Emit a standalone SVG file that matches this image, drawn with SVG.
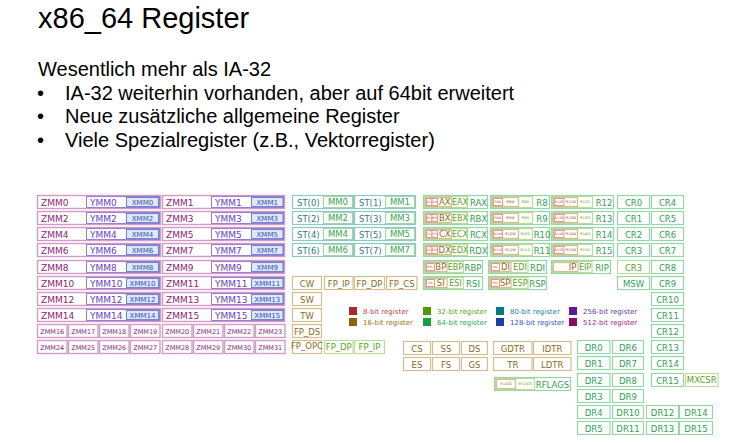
<svg xmlns="http://www.w3.org/2000/svg" width="755" height="443" viewBox="0 0 755 443">
<style>
text{font-family:"DejaVu Sans","Liberation Sans",sans-serif}
.h{font-family:"Liberation Sans",Arial,sans-serif;fill:#000}
.z{fill:#fff;stroke:#d09cc6;stroke-width:1.4}
.zt{font-size:9px;fill:#8e2377}
.zs{font-size:6.5px;fill:#8e2377;text-anchor:middle}
.y{fill:#fff;stroke:#9a7ed6}
.yt{font-size:9px;fill:#6a3cc4}
.x{fill:#e0e7f8;stroke:#6d86cc}
.xt{font-size:7px;fill:#3152b4;text-anchor:middle}
.st{fill:#fff;stroke:#8ccac0;stroke-width:1.2}
.stt{font-size:8.5px;fill:#2b7c7a}
.mm{fill:#fff;stroke:#9ed6aa}
.mmt{font-size:8.5px;fill:#3aa452;text-anchor:middle}
.b{fill:#fff;stroke:#d2be90;stroke-width:1.2}
.bt{font-size:8.5px;fill:#8a6a1a;text-anchor:middle}
.g{fill:#fff;stroke:#96d4aa;stroke-width:1.2}
.gt{font-size:8.5px;fill:#2ea250;text-anchor:middle}
.l{fill:#fff;stroke:#bcdc98;stroke-width:1.2}
.lt{font-size:8.5px;fill:#5aa218;text-anchor:middle}
.r{fill:#fff;stroke:#dc9a9a}
.rt{font-size:3.2px;fill:#c04a4a;text-anchor:middle}
.bs{font-size:8.5px;fill:#8a6a1a;text-anchor:middle}
.ls{font-size:8px;fill:#5aa218;text-anchor:middle}
.bx{font-size:3.6px;fill:#8a6a1a;text-anchor:middle}
.lx{font-size:3.6px;fill:#5aa218;text-anchor:middle}
.lg{font-size:7px}
</style>

<g id="heading">
<text class="h" x="38" y="28" font-size="29">x86_64 Register</text>
<text class="h" x="38" y="76" font-size="20">Wesentlich mehr als IA-32</text>
<text class="h" x="37" y="100" font-size="20">•</text>
<text class="h" x="65" y="100" font-size="20">IA-32 weiterhin vorhanden, aber auf 64bit erweitert</text>
<text class="h" x="37" y="123" font-size="20">•</text>
<text class="h" x="65" y="123" font-size="20">Neue zusätzliche allgemeine Register</text>
<text class="h" x="37" y="147" font-size="20">•</text>
<text class="h" x="65" y="147" font-size="20">Viele Spezialregister (z.B., Vektorregister)</text>
</g>

<g id="connectors"></g>

<!-- ZMM / YMM / XMM -->
<g id="zmm0"><rect class="z" x="37.5" y="195.5" width="123" height="13"/><text class="zt" x="41" y="205.5">ZMM0</text>
<g id="ymm0"><rect class="y" x="86.5" y="196.5" width="73" height="11"/><text class="yt" x="90" y="205.5">YMM0</text>
<g id="xmm0"><rect class="x" x="126.5" y="197.5" width="32" height="9"/><text class="xt" x="142.5" y="204.6">XMM0</text></g></g></g>
<g id="zmm1"><rect class="z" x="162.5" y="195.5" width="122" height="13"/><text class="zt" x="166" y="205.5">ZMM1</text>
<g id="ymm1"><rect class="y" x="211.5" y="196.5" width="72" height="11"/><text class="yt" x="215" y="205.5">YMM1</text>
<g id="xmm1"><rect class="x" x="251.5" y="197.5" width="31.5" height="9"/><text class="xt" x="267.25" y="204.6">XMM1</text></g></g></g>

<g id="zmm2"><rect class="z" x="37.5" y="211.5" width="123" height="13"/><text class="zt" x="41" y="221.5">ZMM2</text>
<g id="ymm2"><rect class="y" x="86.5" y="212.5" width="73" height="11"/><text class="yt" x="90" y="221.5">YMM2</text>
<g id="xmm2"><rect class="x" x="126.5" y="213.5" width="32" height="9"/><text class="xt" x="142.5" y="220.6">XMM2</text></g></g></g>
<g id="zmm3"><rect class="z" x="162.5" y="211.5" width="122" height="13"/><text class="zt" x="166" y="221.5">ZMM3</text>
<g id="ymm3"><rect class="y" x="211.5" y="212.5" width="72" height="11"/><text class="yt" x="215" y="221.5">YMM3</text>
<g id="xmm3"><rect class="x" x="251.5" y="213.5" width="31.5" height="9"/><text class="xt" x="267.25" y="220.6">XMM3</text></g></g></g>

<g id="zmm4"><rect class="z" x="37.5" y="227.5" width="123" height="13"/><text class="zt" x="41" y="237.5">ZMM4</text>
<g id="ymm4"><rect class="y" x="86.5" y="228.5" width="73" height="11"/><text class="yt" x="90" y="237.5">YMM4</text>
<g id="xmm4"><rect class="x" x="126.5" y="229.5" width="32" height="9"/><text class="xt" x="142.5" y="236.6">XMM4</text></g></g></g>
<g id="zmm5"><rect class="z" x="162.5" y="227.5" width="122" height="13"/><text class="zt" x="166" y="237.5">ZMM5</text>
<g id="ymm5"><rect class="y" x="211.5" y="228.5" width="72" height="11"/><text class="yt" x="215" y="237.5">YMM5</text>
<g id="xmm5"><rect class="x" x="251.5" y="229.5" width="31.5" height="9"/><text class="xt" x="267.25" y="236.6">XMM5</text></g></g></g>

<g id="zmm6"><rect class="z" x="37.5" y="243.5" width="123" height="13"/><text class="zt" x="41" y="253.5">ZMM6</text>
<g id="ymm6"><rect class="y" x="86.5" y="244.5" width="73" height="11"/><text class="yt" x="90" y="253.5">YMM6</text>
<g id="xmm6"><rect class="x" x="126.5" y="245.5" width="32" height="9"/><text class="xt" x="142.5" y="252.6">XMM6</text></g></g></g>
<g id="zmm7"><rect class="z" x="162.5" y="243.5" width="122" height="13"/><text class="zt" x="166" y="253.5">ZMM7</text>
<g id="ymm7"><rect class="y" x="211.5" y="244.5" width="72" height="11"/><text class="yt" x="215" y="253.5">YMM7</text>
<g id="xmm7"><rect class="x" x="251.5" y="245.5" width="31.5" height="9"/><text class="xt" x="267.25" y="252.6">XMM7</text></g></g></g>

<g id="zmm8"><rect class="z" x="37.5" y="260.5" width="123" height="13"/><text class="zt" x="41" y="270.5">ZMM8</text>
<g id="ymm8"><rect class="y" x="86.5" y="261.5" width="73" height="11"/><text class="yt" x="90" y="270.5">YMM8</text>
<g id="xmm8"><rect class="x" x="126.5" y="262.5" width="32" height="9"/><text class="xt" x="142.5" y="269.6">XMM8</text></g></g></g>
<g id="zmm9"><rect class="z" x="162.5" y="260.5" width="122" height="13"/><text class="zt" x="166" y="270.5">ZMM9</text>
<g id="ymm9"><rect class="y" x="211.5" y="261.5" width="72" height="11"/><text class="yt" x="215" y="270.5">YMM9</text>
<g id="xmm9"><rect class="x" x="251.5" y="262.5" width="31.5" height="9"/><text class="xt" x="267.25" y="269.6">XMM9</text></g></g></g>

<g id="zmm10"><rect class="z" x="37.5" y="276.5" width="123" height="13"/><text class="zt" x="41" y="286.5">ZMM10</text>
<g id="ymm10"><rect class="y" x="86.5" y="277.5" width="73" height="11"/><text class="yt" x="90" y="286.5">YMM10</text>
<g id="xmm10"><rect class="x" x="126.5" y="278.5" width="32" height="9"/><text class="xt" x="142.5" y="285.6">XMM10</text></g></g></g>
<g id="zmm11"><rect class="z" x="162.5" y="276.5" width="122" height="13"/><text class="zt" x="166" y="286.5">ZMM11</text>
<g id="ymm11"><rect class="y" x="211.5" y="277.5" width="72" height="11"/><text class="yt" x="215" y="286.5">YMM11</text>
<g id="xmm11"><rect class="x" x="251.5" y="278.5" width="31.5" height="9"/><text class="xt" x="267.25" y="285.6">XMM11</text></g></g></g>

<g id="zmm12"><rect class="z" x="37.5" y="292.5" width="123" height="13"/><text class="zt" x="41" y="302.5">ZMM12</text>
<g id="ymm12"><rect class="y" x="86.5" y="293.5" width="73" height="11"/><text class="yt" x="90" y="302.5">YMM12</text>
<g id="xmm12"><rect class="x" x="126.5" y="294.5" width="32" height="9"/><text class="xt" x="142.5" y="301.6">XMM12</text></g></g></g>
<g id="zmm13"><rect class="z" x="162.5" y="292.5" width="122" height="13"/><text class="zt" x="166" y="302.5">ZMM13</text>
<g id="ymm13"><rect class="y" x="211.5" y="293.5" width="72" height="11"/><text class="yt" x="215" y="302.5">YMM13</text>
<g id="xmm13"><rect class="x" x="251.5" y="294.5" width="31.5" height="9"/><text class="xt" x="267.25" y="301.6">XMM13</text></g></g></g>

<g id="zmm14"><rect class="z" x="37.5" y="308.5" width="123" height="13"/><text class="zt" x="41" y="318.5">ZMM14</text>
<g id="ymm14"><rect class="y" x="86.5" y="309.5" width="73" height="11"/><text class="yt" x="90" y="318.5">YMM14</text>
<g id="xmm14"><rect class="x" x="126.5" y="310.5" width="32" height="9"/><text class="xt" x="142.5" y="317.6">XMM14</text></g></g></g>
<g id="zmm15"><rect class="z" x="162.5" y="308.5" width="122" height="13"/><text class="zt" x="166" y="318.5">ZMM15</text>
<g id="ymm15"><rect class="y" x="211.5" y="309.5" width="72" height="11"/><text class="yt" x="215" y="318.5">YMM15</text>
<g id="xmm15"><rect class="x" x="251.5" y="310.5" width="31.5" height="9"/><text class="xt" x="267.25" y="317.6">XMM15</text></g></g></g>

<g id="zmm16"><rect class="z" x="37.5" y="324.5" width="29.5" height="13"/><text class="zs" x="52.25" y="333.8">ZMM16</text></g>
<g id="zmm17"><rect class="z" x="68.5" y="324.5" width="29.5" height="13"/><text class="zs" x="83.25" y="333.8">ZMM17</text></g>
<g id="zmm18"><rect class="z" x="99.5" y="324.5" width="29.5" height="13"/><text class="zs" x="114.25" y="333.8">ZMM18</text></g>
<g id="zmm19"><rect class="z" x="130.5" y="324.5" width="29.5" height="13"/><text class="zs" x="145.25" y="333.8">ZMM19</text></g>
<g id="zmm20"><rect class="z" x="162.5" y="324.5" width="29.5" height="13"/><text class="zs" x="177.25" y="333.8">ZMM20</text></g>
<g id="zmm21"><rect class="z" x="193.5" y="324.5" width="29.5" height="13"/><text class="zs" x="208.25" y="333.8">ZMM21</text></g>
<g id="zmm22"><rect class="z" x="224.5" y="324.5" width="29.5" height="13"/><text class="zs" x="239.25" y="333.8">ZMM22</text></g>
<g id="zmm23"><rect class="z" x="255.5" y="324.5" width="29.5" height="13"/><text class="zs" x="270.25" y="333.8">ZMM23</text></g>
<g id="zmm24"><rect class="z" x="37.5" y="340.5" width="29.5" height="13"/><text class="zs" x="52.25" y="349.8">ZMM24</text></g>
<g id="zmm25"><rect class="z" x="68.5" y="340.5" width="29.5" height="13"/><text class="zs" x="83.25" y="349.8">ZMM25</text></g>
<g id="zmm26"><rect class="z" x="99.5" y="340.5" width="29.5" height="13"/><text class="zs" x="114.25" y="349.8">ZMM26</text></g>
<g id="zmm27"><rect class="z" x="130.5" y="340.5" width="29.5" height="13"/><text class="zs" x="145.25" y="349.8">ZMM27</text></g>
<g id="zmm28"><rect class="z" x="162.5" y="340.5" width="29.5" height="13"/><text class="zs" x="177.25" y="349.8">ZMM28</text></g>
<g id="zmm29"><rect class="z" x="193.5" y="340.5" width="29.5" height="13"/><text class="zs" x="208.25" y="349.8">ZMM29</text></g>
<g id="zmm30"><rect class="z" x="224.5" y="340.5" width="29.5" height="13"/><text class="zs" x="239.25" y="349.8">ZMM30</text></g>
<g id="zmm31"><rect class="z" x="255.5" y="340.5" width="29.5" height="13"/><text class="zs" x="270.25" y="349.8">ZMM31</text></g>

<!-- ST / MM -->
<g id="st0"><rect class="st" x="292.5" y="195.5" width="61" height="13"/><text class="stt" x="297" y="205.5">ST(0)</text>
<g id="mm0"><rect class="mm" x="323.5" y="196.5" width="29" height="11"/><text class="mmt" x="338" y="205.3">MM0</text></g></g>
<g id="st1"><rect class="st" x="354.5" y="195.5" width="61" height="13"/><text class="stt" x="359" y="205.5">ST(1)</text>
<g id="mm1"><rect class="mm" x="385.5" y="196.5" width="29" height="11"/><text class="mmt" x="400" y="205.3">MM1</text></g></g>
<g id="st2"><rect class="st" x="292.5" y="211.5" width="61" height="13"/><text class="stt" x="297" y="221.5">ST(2)</text>
<g id="mm2"><rect class="mm" x="323.5" y="212.5" width="29" height="11"/><text class="mmt" x="338" y="221.3">MM2</text></g></g>
<g id="st3"><rect class="st" x="354.5" y="211.5" width="61" height="13"/><text class="stt" x="359" y="221.5">ST(3)</text>
<g id="mm3"><rect class="mm" x="385.5" y="212.5" width="29" height="11"/><text class="mmt" x="400" y="221.3">MM3</text></g></g>
<g id="st4"><rect class="st" x="292.5" y="227.5" width="61" height="13"/><text class="stt" x="297" y="237.5">ST(4)</text>
<g id="mm4"><rect class="mm" x="323.5" y="228.5" width="29" height="11"/><text class="mmt" x="338" y="237.3">MM4</text></g></g>
<g id="st5"><rect class="st" x="354.5" y="227.5" width="61" height="13"/><text class="stt" x="359" y="237.5">ST(5)</text>
<g id="mm5"><rect class="mm" x="385.5" y="228.5" width="29" height="11"/><text class="mmt" x="400" y="237.3">MM5</text></g></g>
<g id="st6"><rect class="st" x="292.5" y="243.5" width="61" height="13"/><text class="stt" x="297" y="253.5">ST(6)</text>
<g id="mm6"><rect class="mm" x="323.5" y="244.5" width="29" height="11"/><text class="mmt" x="338" y="253.3">MM6</text></g></g>
<g id="st7"><rect class="st" x="354.5" y="243.5" width="61" height="13"/><text class="stt" x="359" y="253.5">ST(7)</text>
<g id="mm7"><rect class="mm" x="385.5" y="244.5" width="29" height="11"/><text class="mmt" x="400" y="253.3">MM7</text></g></g>

<!-- FPU control -->
<g id="cw"><rect class="b" x="292.5" y="276.5" width="29" height="13"/><text class="bt" x="307" y="286.5">CW</text></g>
<g id="fp_ip"><rect class="b" x="324.5" y="276.5" width="28.5" height="13"/><text class="bt" x="338.75" y="286.5">FP_IP</text></g>
<g id="fp_dp"><rect class="b" x="354.5" y="276.5" width="30" height="13"/><text class="bt" x="369.5" y="286.5">FP_DP</text></g>
<g id="fp_cs"><rect class="b" x="386.5" y="276.5" width="30.5" height="13"/><text class="bt" x="401.75" y="286.5">FP_CS</text></g>
<g id="sw"><rect class="b" x="292.5" y="292.5" width="29" height="13"/><text class="bt" x="307" y="302.5">SW</text></g>
<g id="tw"><rect class="b" x="292.5" y="308.5" width="29" height="13"/><text class="bt" x="307" y="318.5">TW</text></g>
<g id="fp_ds"><rect class="b" x="292.5" y="324.5" width="29" height="13"/><text class="bt" x="307" y="334.5" font-size="8">FP_DS</text></g>
<g id="fp_opc"><rect class="b" x="292.5" y="340.5" width="29" height="13"/><text class="bt" x="307" y="349.4" font-size="5.8">FP_OPC</text></g>
<g id="fp_dp2"><rect class="l" x="324.5" y="340.5" width="28.5" height="13"/><text class="lt" x="338.75" y="350.3" font-size="8">FP_DP</text></g>
<g id="fp_ip2"><rect class="l" x="354.5" y="340.5" width="30" height="13"/><text class="lt" x="369.5" y="350.3" font-size="8">FP_IP</text></g>

<!-- General purpose registers -->
<g id="rax"><rect class="g" x="423.5" y="195.5" width="64" height="13"/><text class="gt" x="478.5" y="205.5">RAX</text>
<g id="eax"><rect class="l" x="424.5" y="196.5" width="43" height="11"/><text class="ls" x="460" y="205.2">EAX</text>
<g id="ax"><rect class="b" x="425.5" y="197.5" width="26" height="9"/><text class="bs" x="444.8" y="205.2">AX</text>
<g id="al"><rect class="r" x="426.5" y="198.5" width="5.5" height="7"/><text class="rt" x="429.25" y="203.2">AL</text></g>
<g id="ah"><rect class="r" x="432" y="198.5" width="5.5" height="7"/><text class="rt" x="434.75" y="203.2">AH</text></g></g></g></g>
<g id="rbx"><rect class="g" x="423.5" y="211.5" width="64" height="13"/><text class="gt" x="478.5" y="221.5">RBX</text>
<g id="ebx"><rect class="l" x="424.5" y="212.5" width="43" height="11"/><text class="ls" x="460" y="221.2">EBX</text>
<g id="bx"><rect class="b" x="425.5" y="213.5" width="26" height="9"/><text class="bs" x="444.8" y="221.2">BX</text>
<g id="bl"><rect class="r" x="426.5" y="214.5" width="5.5" height="7"/><text class="rt" x="429.25" y="219.2">BL</text></g>
<g id="bh"><rect class="r" x="432" y="214.5" width="5.5" height="7"/><text class="rt" x="434.75" y="219.2">BH</text></g></g></g></g>
<g id="rcx"><rect class="g" x="423.5" y="227.5" width="64" height="13"/><text class="gt" x="478.5" y="237.5">RCX</text>
<g id="ecx"><rect class="l" x="424.5" y="228.5" width="43" height="11"/><text class="ls" x="460" y="237.2">ECX</text>
<g id="cx"><rect class="b" x="425.5" y="229.5" width="26" height="9"/><text class="bs" x="444.8" y="237.2">CX</text>
<g id="cl"><rect class="r" x="426.5" y="230.5" width="5.5" height="7"/><text class="rt" x="429.25" y="235.2">CL</text></g>
<g id="ch"><rect class="r" x="432" y="230.5" width="5.5" height="7"/><text class="rt" x="434.75" y="235.2">CH</text></g></g></g></g>
<g id="rdx"><rect class="g" x="423.5" y="243.5" width="64" height="13"/><text class="gt" x="478.5" y="253.5">RDX</text>
<g id="edx"><rect class="l" x="424.5" y="244.5" width="43" height="11"/><text class="ls" x="460" y="253.2">EDX</text>
<g id="dx"><rect class="b" x="425.5" y="245.5" width="26" height="9"/><text class="bs" x="444.8" y="253.2">DX</text>
<g id="dl"><rect class="r" x="426.5" y="246.5" width="5.5" height="7"/><text class="rt" x="429.25" y="251.2">DL</text></g>
<g id="dh"><rect class="r" x="432" y="246.5" width="5.5" height="7"/><text class="rt" x="434.75" y="251.2">DH</text></g></g></g></g>

<g id="r8"><rect class="g" x="490.5" y="195.5" width="59" height="13"/><text class="gt" x="542" y="205.5">R8</text>
<g id="r8d"><rect class="l" x="491.5" y="196.5" width="41" height="11"/><text class="lx" x="525.5" y="203.3">R8D</text>
<g id="r8w"><rect class="b" x="492.5" y="197.5" width="26" height="9"/><text class="bx" x="510.5" y="203.3">R8W</text>
<g id="r8b"><rect class="r" x="493.5" y="198.5" width="9" height="7"/><text class="rt" x="498" y="203.2">R8B</text></g></g></g></g>
<g id="r9"><rect class="g" x="490.5" y="211.5" width="59" height="13"/><text class="gt" x="542" y="221.5">R9</text>
<g id="r9d"><rect class="l" x="491.5" y="212.5" width="41" height="11"/><text class="lx" x="525.5" y="219.3">R9D</text>
<g id="r9w"><rect class="b" x="492.5" y="213.5" width="26" height="9"/><text class="bx" x="510.5" y="219.3">R9W</text>
<g id="r9b"><rect class="r" x="493.5" y="214.5" width="9" height="7"/><text class="rt" x="498" y="219.2">R9B</text></g></g></g></g>
<g id="r10"><rect class="g" x="490.5" y="227.5" width="59" height="13"/><text class="gt" x="542" y="237.5">R10</text>
<g id="r10d"><rect class="l" x="491.5" y="228.5" width="41" height="11"/><text class="lx" x="525.5" y="235.3">R10D</text>
<g id="r10w"><rect class="b" x="492.5" y="229.5" width="26" height="9"/><text class="bx" x="510.5" y="235.3">R10W</text>
<g id="r10b"><rect class="r" x="493.5" y="230.5" width="9" height="7"/><text class="rt" x="498" y="235.2" font-size="2.8">R10B</text></g></g></g></g>
<g id="r11"><rect class="g" x="490.5" y="243.5" width="59" height="13"/><text class="gt" x="542" y="253.5">R11</text>
<g id="r11d"><rect class="l" x="491.5" y="244.5" width="41" height="11"/><text class="lx" x="525.5" y="251.3">R11D</text>
<g id="r11w"><rect class="b" x="492.5" y="245.5" width="26" height="9"/><text class="bx" x="510.5" y="251.3">R11W</text>
<g id="r11b"><rect class="r" x="493.5" y="246.5" width="9" height="7"/><text class="rt" x="498" y="251.2" font-size="2.8">R11B</text></g></g></g></g>

<g id="r12"><rect class="g" x="551.5" y="195.5" width="62" height="13"/><text class="gt" x="604" y="205.5">R12</text>
<g id="r12d"><rect class="l" x="552.5" y="196.5" width="40" height="11"/><text class="lx" x="585" y="203.3">R12D</text>
<g id="r12w"><rect class="b" x="553.5" y="197.5" width="24" height="9"/><text class="bx" x="571" y="203.3">R12W</text>
<g id="r12b"><rect class="r" x="554.5" y="198.5" width="9.5" height="7"/><text class="rt" x="559.25" y="203.2" font-size="2.8">R12B</text></g></g></g></g>
<g id="r13"><rect class="g" x="551.5" y="211.5" width="62" height="13"/><text class="gt" x="604" y="221.5">R13</text>
<g id="r13d"><rect class="l" x="552.5" y="212.5" width="40" height="11"/><text class="lx" x="585" y="219.3">R13D</text>
<g id="r13w"><rect class="b" x="553.5" y="213.5" width="24" height="9"/><text class="bx" x="571" y="219.3">R13W</text>
<g id="r13b"><rect class="r" x="554.5" y="214.5" width="9.5" height="7"/><text class="rt" x="559.25" y="219.2" font-size="2.8">R13B</text></g></g></g></g>
<g id="r14"><rect class="g" x="551.5" y="227.5" width="62" height="13"/><text class="gt" x="604" y="237.5">R14</text>
<g id="r14d"><rect class="l" x="552.5" y="228.5" width="40" height="11"/><text class="lx" x="585" y="235.3">R14D</text>
<g id="r14w"><rect class="b" x="553.5" y="229.5" width="24" height="9"/><text class="bx" x="571" y="235.3">R14W</text>
<g id="r14b"><rect class="r" x="554.5" y="230.5" width="9.5" height="7"/><text class="rt" x="559.25" y="235.2" font-size="2.8">R14B</text></g></g></g></g>
<g id="r15"><rect class="g" x="551.5" y="243.5" width="62" height="13"/><text class="gt" x="604" y="253.5">R15</text>
<g id="r15d"><rect class="l" x="552.5" y="244.5" width="40" height="11"/><text class="lx" x="585" y="251.3">R15D</text>
<g id="r15w"><rect class="b" x="553.5" y="245.5" width="24" height="9"/><text class="bx" x="571" y="251.3">R15W</text>
<g id="r15b"><rect class="r" x="554.5" y="246.5" width="9.5" height="7"/><text class="rt" x="559.25" y="251.2" font-size="2.8">R15B</text></g></g></g></g>

<g id="rbp"><rect class="g" x="423.5" y="260.5" width="59" height="13"/><text class="gt" x="473" y="270.5">RBP</text>
<g id="ebp"><rect class="l" x="424.5" y="261.5" width="39" height="11"/><text class="ls" x="455.5" y="270.2">EBP</text>
<g id="bp"><rect class="b" x="425.5" y="262.5" width="21.5" height="9"/><text class="bs" x="440.8" y="270.2">BP</text>
<g id="bpl"><rect class="r" x="426.5" y="263.5" width="8" height="7"/><text class="rt" x="430.5" y="268.2">BPL</text></g></g></g></g>
<g id="rdi"><rect class="g" x="488.5" y="260.5" width="58" height="13"/><text class="gt" x="537.5" y="270.5">RDI</text>
<g id="edi"><rect class="l" x="489.5" y="261.5" width="38.5" height="11"/><text class="ls" x="520" y="270.2">EDI</text>
<g id="di"><rect class="b" x="490.5" y="262.5" width="20.5" height="9"/><text class="bs" x="505.5" y="270.2">DI</text>
<g id="dil"><rect class="r" x="491.5" y="263.5" width="8" height="7"/><text class="rt" x="495.5" y="268.2">DIL</text></g></g></g></g>
<g id="rip"><rect class="g" x="551.5" y="260.5" width="59" height="13"/><text class="gt" x="602" y="270.5">RIP</text>
<g id="eip"><rect class="l" x="552.5" y="261.5" width="39.5" height="11"/><text class="ls" x="585" y="270.2">EIP</text>
<g id="ip"><rect class="b" x="553.5" y="262.5" width="24.5" height="9"/><text class="bs" x="572.5" y="270.2">IP</text></g></g></g>

<g id="rsi"><rect class="g" x="423.5" y="276.5" width="59" height="13"/><text class="gt" x="473" y="286.5">RSI</text>
<g id="esi"><rect class="l" x="424.5" y="277.5" width="39" height="11"/><text class="ls" x="455.5" y="286.2">ESI</text>
<g id="si"><rect class="b" x="425.5" y="278.5" width="21.5" height="9"/><text class="bs" x="440.8" y="286.2">SI</text>
<g id="sil"><rect class="r" x="426.5" y="279.5" width="8" height="7"/><text class="rt" x="430.5" y="284.2">SIL</text></g></g></g></g>
<g id="rsp"><rect class="g" x="488.5" y="276.5" width="58" height="13"/><text class="gt" x="537.5" y="286.5">RSP</text>
<g id="esp"><rect class="l" x="489.5" y="277.5" width="38.5" height="11"/><text class="ls" x="520" y="286.2">ESP</text>
<g id="sp"><rect class="b" x="490.5" y="278.5" width="20.5" height="9"/><text class="bs" x="505.2" y="286.2">SP</text>
<g id="spl"><rect class="r" x="491.5" y="279.5" width="8" height="7"/><text class="rt" x="495.5" y="284.2">SPL</text></g></g></g></g>

<g id="rflags"><rect class="g" x="494.5" y="377.5" width="76" height="13"/><text class="gt" x="552.5" y="387.5">RFLAGS</text>
<g id="eflags"><rect class="l" x="495.5" y="378.5" width="39" height="11"/><text class="lx" x="525" y="385.3">EFLAGS</text>
<g id="flags"><rect class="b" x="496.5" y="379.5" width="19" height="9"/><text class="bx" x="506" y="385.3">FLAGS</text></g></g></g>

<!-- Segment & table registers -->
<g id="cs"><rect class="b" x="403.5" y="341.5" width="27" height="13"/><text class="bt" x="417" y="351.5">CS</text></g>
<g id="ss"><rect class="b" x="432.5" y="341.5" width="27" height="13"/><text class="bt" x="446" y="351.5">SS</text></g>
<g id="ds"><rect class="b" x="461.5" y="341.5" width="26" height="13"/><text class="bt" x="474.5" y="351.5">DS</text></g>
<g id="es"><rect class="b" x="403.5" y="357.5" width="27" height="13"/><text class="bt" x="417" y="367.5">ES</text></g>
<g id="fs"><rect class="b" x="432.5" y="357.5" width="27" height="13"/><text class="bt" x="446" y="367.5">FS</text></g>
<g id="gs"><rect class="b" x="461.5" y="357.5" width="26" height="13"/><text class="bt" x="474.5" y="367.5">GS</text></g>
<g id="gdtr"><rect class="b" x="493.5" y="341.5" width="38.5" height="13"/><text class="bt" x="512.75" y="351.5">GDTR</text></g>
<g id="idtr"><rect class="b" x="533.5" y="341.5" width="37.5" height="13"/><text class="bt" x="552.25" y="351.5">IDTR</text></g>
<g id="tr"><rect class="b" x="493.5" y="357.5" width="38.5" height="13"/><text class="bt" x="512.75" y="367.5">TR</text></g>
<g id="ldtr"><rect class="b" x="533.5" y="357.5" width="37.5" height="13"/><text class="bt" x="552.25" y="367.5">LDTR</text></g>

<!-- Control registers -->
<g id="cr0"><rect class="g" x="617.5" y="195.5" width="32" height="13"/><text class="gt" x="633.5" y="205.5">CR0</text></g>
<g id="cr1"><rect class="g" x="617.5" y="211.5" width="32" height="13"/><text class="gt" x="633.5" y="221.5">CR1</text></g>
<g id="cr2"><rect class="g" x="617.5" y="227.5" width="32" height="13"/><text class="gt" x="633.5" y="237.5">CR2</text></g>
<g id="cr3"><rect class="g" x="617.5" y="243.5" width="32" height="13"/><text class="gt" x="633.5" y="253.5">CR3</text></g>
<g id="cr3b"><rect class="l" x="617.5" y="260.5" width="32" height="13"/><text class="lt" x="633.5" y="270.5">CR3</text></g>
<g id="msw"><rect class="g" x="617.5" y="276.5" width="32" height="13"/><text class="gt" x="633.5" y="286.5">MSW</text></g>
<g id="cr4"><rect class="g" x="651.5" y="195.5" width="32" height="13"/><text class="gt" x="667.5" y="205.5">CR4</text></g>
<g id="cr5"><rect class="g" x="651.5" y="211.5" width="32" height="13"/><text class="gt" x="667.5" y="221.5">CR5</text></g>
<g id="cr6"><rect class="g" x="651.5" y="227.5" width="32" height="13"/><text class="gt" x="667.5" y="237.5">CR6</text></g>
<g id="cr7"><rect class="g" x="651.5" y="243.5" width="32" height="13"/><text class="gt" x="667.5" y="253.5">CR7</text></g>
<g id="cr8"><rect class="g" x="651.5" y="260.5" width="32" height="13"/><text class="gt" x="667.5" y="270.5">CR8</text></g>
<g id="cr9"><rect class="g" x="651.5" y="276.5" width="32" height="13"/><text class="gt" x="667.5" y="286.5">CR9</text></g>
<g id="cr10"><rect class="g" x="651.5" y="292.5" width="32" height="13"/><text class="gt" x="667.5" y="302.5">CR10</text></g>
<g id="cr11"><rect class="g" x="651.5" y="308.5" width="32" height="13"/><text class="gt" x="667.5" y="318.5">CR11</text></g>
<g id="cr12"><rect class="g" x="651.5" y="324.5" width="32" height="13"/><text class="gt" x="667.5" y="334.5">CR12</text></g>
<g id="cr13"><rect class="g" x="651.5" y="340.5" width="32" height="13"/><text class="gt" x="667.5" y="350.5">CR13</text></g>
<g id="cr14"><rect class="g" x="651.5" y="356.5" width="32" height="13"/><text class="gt" x="667.5" y="366.5">CR14</text></g>
<g id="cr15"><rect class="g" x="651.5" y="373.5" width="32" height="13"/><text class="gt" x="667.5" y="383.5">CR15</text></g>
<g id="mxcsr"><rect class="l" x="685.5" y="373.5" width="32.5" height="13"/><text class="lt" x="701.75" y="383.3" font-size="7.8">MXCSR</text></g>

<!-- Debug registers -->
<g id="dr0"><rect class="g" x="577.5" y="340.5" width="32.5" height="13"/><text class="gt" x="593.75" y="350.5">DR0</text></g>
<g id="dr1"><rect class="g" x="577.5" y="356.5" width="32.5" height="13"/><text class="gt" x="593.75" y="366.5">DR1</text></g>
<g id="dr2"><rect class="g" x="577.5" y="373.5" width="32.5" height="13"/><text class="gt" x="593.75" y="383.5">DR2</text></g>
<g id="dr3"><rect class="g" x="577.5" y="389.5" width="32.5" height="13"/><text class="gt" x="593.75" y="399.5">DR3</text></g>
<g id="dr4"><rect class="g" x="577.5" y="405.5" width="32.5" height="13"/><text class="gt" x="593.75" y="415.5">DR4</text></g>
<g id="dr5"><rect class="g" x="577.5" y="421.5" width="32.5" height="13"/><text class="gt" x="593.75" y="431.5">DR5</text></g>
<g id="dr6"><rect class="g" x="612.5" y="340.5" width="31" height="13"/><text class="gt" x="628" y="350.5">DR6</text></g>
<g id="dr7"><rect class="g" x="612.5" y="356.5" width="31" height="13"/><text class="gt" x="628" y="366.5">DR7</text></g>
<g id="dr8"><rect class="g" x="612.5" y="373.5" width="31" height="13"/><text class="gt" x="628" y="383.5">DR8</text></g>
<g id="dr9"><rect class="g" x="612.5" y="389.5" width="31" height="13"/><text class="gt" x="628" y="399.5">DR9</text></g>
<g id="dr10"><rect class="g" x="612.5" y="405.5" width="31" height="13"/><text class="gt" x="628" y="415.5">DR10</text></g>
<g id="dr11"><rect class="g" x="612.5" y="421.5" width="31" height="13"/><text class="gt" x="628" y="431.5">DR11</text></g>
<g id="dr12"><rect class="g" x="646.5" y="405.5" width="32" height="13"/><text class="gt" x="662.5" y="415.5">DR12</text></g>
<g id="dr13"><rect class="g" x="646.5" y="421.5" width="32" height="13"/><text class="gt" x="662.5" y="431.5">DR13</text></g>
<g id="dr14"><rect class="g" x="679.5" y="405.5" width="33" height="13"/><text class="gt" x="696" y="415.5">DR14</text></g>
<g id="dr15"><rect class="g" x="679.5" y="421.5" width="33" height="13"/><text class="gt" x="696" y="431.5">DR15</text></g>

<!-- Legend -->
<g id="legend">
<rect x="349" y="307" width="8" height="8" fill="#a82a2a"/><text class="lg" x="363" y="313.5" fill="#c04a4a">8-bit register</text>
<rect x="349" y="318" width="8" height="8" fill="#8b6406"/><text class="lg" x="363" y="324.5" fill="#9a7620">16-bit register</text>
<rect x="423" y="307" width="8" height="8" fill="#4e9b05"/><text class="lg" x="437" y="313.5" fill="#5aa518">32-bit register</text>
<rect x="423" y="318" width="8" height="8" fill="#17a040"/><text class="lg" x="437" y="324.5" fill="#2aaa50">64-bit register</text>
<rect x="496" y="307" width="8" height="8" fill="#007c7c"/><text class="lg" x="510" y="313.5" fill="#2a8888">80-bit register</text>
<rect x="496" y="318" width="8" height="8" fill="#1e3ea4"/><text class="lg" x="510" y="324.5" fill="#3a58b8">128-bit register</text>
<rect x="569" y="307" width="8" height="8" fill="#5b189c"/><text class="lg" x="583" y="313.5" fill="#6a3aaa">256-bit register</text>
<rect x="569" y="318" width="8" height="8" fill="#8e0a6a"/><text class="lg" x="583" y="324.5" fill="#9a2a7a">512-bit register</text>
</g>
</svg>
